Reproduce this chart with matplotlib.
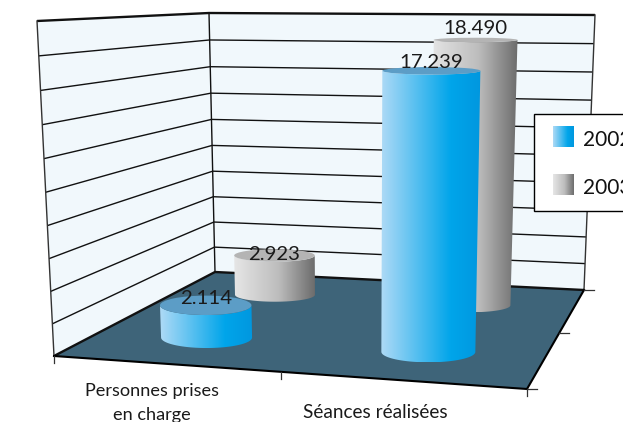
import numpy as np
from matplotlib import pyplot as plt
from matplotlib.colors import LinearSegmentedColormap
from matplotlib.patches import Ellipse, PathPatch, Polygon, Rectangle
from matplotlib.path import Path

categories = ['Personnes prises\nen charge', 'Séances réalisées']
years = ['2002', '2003']
values_2002 = [2114, 17239]
values_2003 = [2923, 18490]
labels_2002 = ['2.114', '17.239']
labels_2003 = ['2.923', '18.490']
axis_ticks = np.arange(0, 22000, 2000)
axis_max = 20000

plt.rcParams['font.family'] = ['Lato', 'DejaVu Sans']

fig = plt.figure(figsize=(6.23, 4.22), dpi=100)
ax = fig.add_axes([0, 0, 1, 1])
ax.set_xlim(0, 623)
ax.set_ylim(422, 0)
ax.axis('off')

# box corners on the page: front/back, left/right
floor_fl, floor_fr = np.array([54, 356.]), np.array([527, 389.])
floor_bl, floor_br = np.array([215, 272.]), np.array([584, 290.])
top_fl, top_fr = np.array([37, 21.]), np.array([536, 30.])
top_bl, top_br = np.array([209, 13.]), np.array([595, 15.])


def bilinear(fl, fr, bl, br, u, v):
    return (1 - v) * ((1 - u) * fl + u * fr) + v * ((1 - u) * bl + u * br)


def rise(value):
    # heights bunch up slightly towards the floor
    z = value / axis_max
    return z / (1.046 - 0.046 * z)


def project(u, v, value):
    low = bilinear(floor_fl, floor_fr, floor_bl, floor_br, u, v)
    high = bilinear(top_fl, top_fr, top_bl, top_br, u, v)
    return low + (high - low) * rise(value)


# walls and floor
wall_color = '#f1f8fc'
ax.add_patch(Polygon([top_fl, top_bl, floor_bl, floor_fl], fc=wall_color, ec='none', zorder=1))
ax.add_patch(Polygon([top_bl, top_br, floor_br, floor_bl], fc=wall_color, ec='none', zorder=1))
ax.add_patch(Polygon([floor_fl, floor_bl, floor_br, floor_fr], fc='#3e6479', ec='none', zorder=2))

for tick in axis_ticks:
    a, b, c = project(0, 0, tick), project(0, 1, tick), project(1, 1, tick)
    width = 1.7 if tick in (0, axis_max) else 1.0
    ax.plot([a[0], b[0], c[0]], [a[1], b[1], c[1]], color='#111111', lw=width, zorder=3, solid_capstyle='butt')

ax.plot(*zip(top_fl, floor_fl), color='#333333', lw=1.0, zorder=3)
ax.plot(*zip(top_bl, floor_bl), color='#111111', lw=1.0, zorder=3)
ax.plot(*zip(top_br, floor_br), color='#333333', lw=1.0, zorder=3)
ax.plot(*zip(floor_fl, floor_fr, floor_br), color='black', lw=1.5, zorder=3)

# tick marks below and beside the floor
for u in [0, 0.48, 1]:
    p = bilinear(floor_fl, floor_fr, floor_bl, floor_br, u, 0)
    ax.plot([p[0], p[0]], [p[1], p[1] + 7], color='#333333', lw=0.9, zorder=3)
for v in [0, 0.566, 1]:
    p = bilinear(floor_fl, floor_fr, floor_bl, floor_br, 1, v)
    ax.plot([p[0], p[0] + 10], [p[1], p[1]], color='#333333', lw=0.9, zorder=3)

blue_map = LinearSegmentedColormap.from_list('blue', [(0, '#aedaf6'), (0.7, '#00a5ea'), (1, '#0097df')])
grey_map = LinearSegmentedColormap.from_list('grey', [(0, '#e6e6e6'), (0.55, '#bdbdbd'), (1, '#6c6c6c')])
ramp = np.linspace(0, 1, 256).reshape(1, -1)


def cylinder(u, v, value, radius, squash, cmap, top_color, zorder):
    base = project(u, v, 0)
    top = project(u, v, value)
    f = rise(value)
    rx_top = radius * (1 + 0.05 * f)
    ry_top = squash * (1 - 0.75 * f)
    t = np.linspace(0, np.pi, 60)
    # outline of the side: top front arc, then bottom front arc backwards
    upper = np.column_stack([top[0] - rx_top * np.cos(t), top[1] + ry_top * np.sin(t)])
    lower = np.column_stack([base[0] + radius * np.cos(t), base[1] + squash * np.sin(t)])
    outline = np.vstack([upper, lower, upper[:1]])
    clip = PathPatch(Path(outline), fc='none', ec='none', transform=ax.transData)
    ax.add_patch(clip)
    left = min(top[0] - rx_top, base[0] - radius)
    right = max(top[0] + rx_top, base[0] + radius)
    img = ax.imshow(ramp, cmap=cmap, extent=[left, right, base[1] + squash, top[1] - ry_top],
                    aspect='auto', zorder=zorder, interpolation='bilinear')
    img.set_clip_path(clip)
    ax.add_patch(Ellipse(top, 2 * rx_top, 2 * ry_top, fc=top_color, ec='none', zorder=zorder + 0.1))
    return top


row_2002 = 0.30
row_2003 = 0.79
group_pos_2002 = [0.236, 0.738]
group_pos_2003 = [0.24, 0.74]
radius_2002 = [45.5, 47]
label_lift_2002 = [7, 8]
label_lift_2003 = [1, 11]
text_style = dict(ha='center', va='center', color='#1a1a1a', zorder=8)

for i in range(2):
    top = cylinder(group_pos_2003[i], row_2003, values_2003[i], 40, 7, grey_map, '#b4b4b4', 4)
    ax.text(top[0], top[1] - label_lift_2003[i], labels_2003[i], fontsize=14.7, **text_style)
for i in range(2):
    top = cylinder(group_pos_2002[i], row_2002, values_2002[i], radius_2002[i], 10.5, blue_map, '#5c9dc6', 5)
    ax.text(top[0], top[1] - label_lift_2002[i], labels_2002[i], fontsize=14.7, **text_style)

# category names
ax.text(152, 403, categories[0], fontsize=13.1, linespacing=1.6, **text_style)
ax.text(375, 413, categories[1], fontsize=13.7, **text_style)

# legend box runs past the right edge of the figure
ax.add_patch(Rectangle((533.5, 113.5), 120, 97, fc='white', ec='black', lw=1.0, zorder=9))
for year, cmap, y0 in zip(years, [blue_map, grey_map], [126, 174]):
    ax.imshow(ramp, cmap=cmap, extent=[553, 574, y0 + 21, y0], aspect='auto', zorder=10)
    ax.text(583, y0 + 14, year, ha='left', va='center', fontsize=15, color='#111111', zorder=10)

ax.set_xlim(0, 623)
ax.set_ylim(422, 0)
fig.savefig('out.png', dpi=100)
